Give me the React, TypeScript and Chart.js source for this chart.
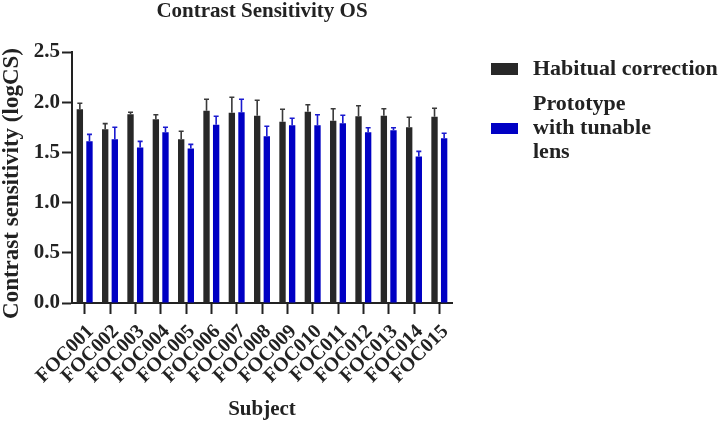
import React, { useEffect, useRef } from "react";
import { Chart, registerables } from "chart.js";

Chart.register(...registerables);

const chartTitle = "Contrast Sensitivity OS";
const xTitle = "Subject";
const yTitle = "Contrast sensitivity (logCS)";
const subjects = [
  "FOC001", "FOC002", "FOC003", "FOC004", "FOC005", "FOC006", "FOC007", "FOC008",
  "FOC009", "FOC010", "FOC011", "FOC012", "FOC013", "FOC014", "FOC015",
];
const habitualLabel = "Habitual correction";
const habitualMean = [1.93, 1.73, 1.88, 1.83, 1.63, 1.915, 1.895, 1.865, 1.805, 1.905, 1.815, 1.86, 1.865, 1.75, 1.855];
const habitualErr = [0.06, 0.057, 0.02, 0.045, 0.08, 0.115, 0.155, 0.155, 0.125, 0.07, 0.12, 0.105, 0.07, 0.1, 0.085];
const prototypeLabel = ["Prototype", "with tunable", "lens"];
const prototypeMean = [1.61, 1.63, 1.55, 1.7, 1.54, 1.775, 1.9, 1.66, 1.77, 1.77, 1.79, 1.7, 1.72, 1.46, 1.64];
const prototypeErr = [0.07, 0.12, 0.06, 0.05, 0.04, 0.085, 0.13, 0.1, 0.07, 0.105, 0.08, 0.045, 0.025, 0.05, 0.05];
const yTicks = [0, 0.5, 1.0, 1.5, 2.0, 2.5];

const FONT = "'Liberation Serif', 'Times New Roman', serif";
const INK = "#222222";
const BLACK_BAR = "#282828";
const BLUE_BAR = "#0000c4";
const errs = [habitualErr, prototypeErr];
const errColors = ["#3a3a3a", "#1a1ad0"];

const errorBarPlugin = {
  id: "errorBars",
  afterDatasetsDraw(chart: any) {
    const ctx = chart.ctx;
    const y = chart.scales.y;
    chart.data.datasets.forEach((ds: any, i: number) => {
      const meta = chart.getDatasetMeta(i);
      meta.data.forEach((bar: any, j: number) => {
        const top = y.getPixelForValue(ds.data[j] + errs[i][j]);
        ctx.save();
        ctx.strokeStyle = errColors[i];
        ctx.lineWidth = 1.6;
        ctx.beginPath();
        ctx.moveTo(bar.x, bar.y);
        ctx.lineTo(bar.x, top);
        ctx.moveTo(bar.x - 2.5, top);
        ctx.lineTo(bar.x + 2.5, top);
        ctx.stroke();
        ctx.restore();
      });
    });
  },
};

const decorPlugin = {
  id: "decor",
  afterDraw(chart: any) {
    const ctx = chart.ctx;
    const area = chart.chartArea;
    ctx.save();
    ctx.fillStyle = INK;
    ctx.font = `bold 21px ${FONT}`;
    ctx.textAlign = "center";
    ctx.textBaseline = "middle";
    ctx.fillText(chartTitle, (area.left + area.right) / 2, 12);

    // y title
    ctx.save();
    ctx.translate(12, (area.top + area.bottom) / 2 + 6);
    ctx.rotate(-Math.PI / 2);
    ctx.font = `bold 23px ${FONT}`;
    ctx.fillText(yTitle, 0, 0);
    ctx.restore();

    // legend
    const lx = area.right + 39;
    const tx = area.right + 81;
    ctx.font = `bold 22px ${FONT}`;
    ctx.textAlign = "left";
    ctx.fillStyle = BLACK_BAR;
    ctx.fillRect(lx, area.top + 11, 27, 12);
    ctx.fillStyle = INK;
    ctx.fillText(habitualLabel, tx, area.top + 17);
    ctx.fillStyle = BLUE_BAR;
    ctx.fillRect(lx, area.top + 71, 27, 11);
    ctx.fillStyle = INK;
    prototypeLabel.forEach((line, k) => {
      ctx.fillText(line, tx, area.top + 52 + k * 24);
    });
    ctx.restore();
  },
};

export default function App() {
  const ref = useRef<HTMLCanvasElement | null>(null);
  useEffect(() => {
    document.body.style.margin = "0";
    const chart = new Chart(ref.current as HTMLCanvasElement, {
      type: "bar",
      data: {
        labels: subjects,
        datasets: [
          { label: habitualLabel, data: habitualMean, backgroundColor: BLACK_BAR, borderWidth: 0, categoryPercentage: 0.76, barPercentage: 0.66 },
          { label: prototypeLabel.join(" "), data: prototypeMean, backgroundColor: BLUE_BAR, borderWidth: 0, categoryPercentage: 0.76, barPercentage: 0.66 },
        ],
      },
      options: {
        responsive: false,
        animation: false,
        layout: { padding: { left: 0, right: 272, top: 52, bottom: 0 } },
        plugins: { legend: { display: false }, title: { display: false }, tooltip: { enabled: false } },
        scales: {
          x: {
            offset: true,
            grid: { display: true, offset: false, drawOnChartArea: false, drawTicks: true, tickLength: 11, tickWidth: 2, tickColor: INK },
            border: { display: true, width: 2, color: INK },
            ticks: { color: INK, font: { family: FONT, size: 20, weight: "bold" }, maxRotation: 45, minRotation: 45, autoSkip: false, padding: 6, labelOffset: 6 },
            title: { display: true, text: xTitle, color: INK, font: { family: FONT, size: 21, weight: "bold" }, padding: { top: 0, bottom: 4 } },
            afterFit: (s: any) => { s.height = 123; },
          },
          y: {
            min: 0,
            max: 2.5,
            afterBuildTicks: (s: any) => { s.ticks = yTicks.map((v) => ({ value: v })); },
            grid: { display: true, drawOnChartArea: false, drawTicks: true, tickLength: 10, tickWidth: 2, tickColor: INK },
            border: { display: true, width: 2, color: INK },
            ticks: { color: INK, font: { family: FONT, size: 21, weight: "bold" }, padding: 2, callback: (v: any) => Number(v).toFixed(1) },
            title: { display: false },
            afterFit: (s: any) => { s.width = 72; },
          },
        },
      },
      plugins: [errorBarPlugin, decorPlugin],
    });
    return () => chart.destroy();
  }, []);
  return (
    <div style={{ position: "absolute", left: 0, top: 0, width: 724, height: 426, background: "#fff" }}>
      <canvas ref={ref} width={724} height={426} />
    </div>
  );
}
